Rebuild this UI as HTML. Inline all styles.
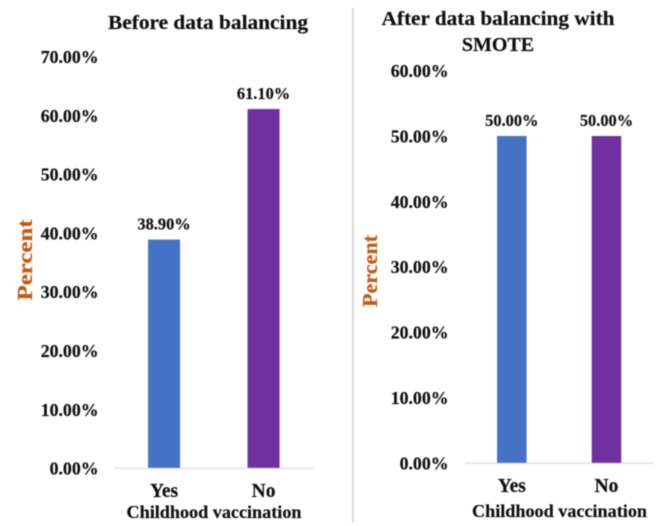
<!DOCTYPE html>
<html lang="en">
<head>
<meta charset="utf-8">
<title>Childhood vaccination before and after data balancing</title>
<style>
html,body{margin:0;padding:0;background:#fff;width:660px;height:526px;overflow:hidden}
svg{display:block;filter:blur(0.4px)}
text{font-family:"Liberation Serif",serif;font-weight:bold;fill:#111;stroke:#111;stroke-width:0.2px}
</style>
</head>
<body>
<svg id="chart" xmlns="http://www.w3.org/2000/svg" width="660" height="526" viewBox="0 0 660 526">
<rect width="660" height="526" fill="#fff"/>
<line x1="353" y1="8" x2="353" y2="523" stroke="#d0d0d0" stroke-width="1.5"/>
<text x="208" y="29" text-anchor="middle" font-size="20" textLength="200" lengthAdjust="spacingAndGlyphs">Before data balancing</text>
<text x="498" y="25" text-anchor="middle" font-size="20" textLength="233" lengthAdjust="spacingAndGlyphs">After data balancing with</text>
<text x="498" y="51" text-anchor="middle" font-size="20">SMOTE</text>
<text transform="translate(32,260) rotate(-90)" text-anchor="middle" font-size="21" textLength="81" lengthAdjust="spacingAndGlyphs" style="fill:#c55a11;stroke:#c55a11">Percent</text>
<text transform="translate(377,271) rotate(-90)" text-anchor="middle" font-size="21" textLength="72" lengthAdjust="spacingAndGlyphs" style="fill:#c55a11;stroke:#c55a11">Percent</text>
<text x="214" y="518" text-anchor="middle" font-size="17.5" textLength="175" lengthAdjust="spacingAndGlyphs">Childhood vaccination</text>
<text x="559.5" y="517" text-anchor="middle" font-size="17.5" textLength="175" lengthAdjust="spacingAndGlyphs">Childhood vaccination</text>
<g id="left-plot"></g>
<g id="right-plot"></g>
</svg>
<script>
const categories = ['Yes', 'No'];
const barColors = ['#4472c4', '#7030a0'];
const beforeValues = [38.9, 61.1];
const afterValues = [50, 50];
const beforeTicks = [0, 10, 20, 30, 40, 50, 60, 70];
const afterTicks = [0, 10, 20, 30, 40, 50, 60];

const SVG_NS = 'http://www.w3.org/2000/svg';

function fmt(v) {
  return v.toFixed(2) + '%';
}

function make(parent, tag, attrs, content) {
  const el = document.createElementNS(SVG_NS, tag);
  Object.keys(attrs).forEach(function (k) { el.setAttribute(k, attrs[k]); });
  if (content !== undefined) el.textContent = content;
  parent.appendChild(el);
  return el;
}

function drawPlot(parentId, values, ticks, frame) {
  const g = document.getElementById(parentId);
  const yScale = function (v) { return frame.baseY - v * frame.pxPerUnit; };
  const band = (frame.right - frame.left) / categories.length;
  const xCenter = function (i) { return frame.left + band * (i + 0.5) + frame.centerShift; };

  ticks.forEach(function (t) {
    const label = make(g, 'text', {
      x: frame.tickX, y: yScale(t) + 6.3, 'text-anchor': 'end', 'font-size': 17.8
    }, fmt(t));
    
    
  });

  values.forEach(function (v, i) {
    const top = yScale(v);
    const bar = make(g, 'rect', {
      x: xCenter(i) - frame.barWidth / 2,
      y: top,
      width: frame.barWidth,
      height: frame.baseY - top,
      fill: barColors[i]
    });
    
    

    const valueLabel = make(g, 'text', {
      x: xCenter(i), y: top - 10, 'text-anchor': 'middle', 'font-size': 16.4
    }, fmt(v));
    
    

    const catLabel = make(g, 'text', {
      x: xCenter(i), y: frame.catY, 'text-anchor': 'middle', 'font-size': 19.5
    }, categories[i]);
    
    
  });

  const axis = make(g, 'line', {
    x1: frame.left, x2: frame.right, y1: frame.baseY, y2: frame.baseY,
    stroke: '#d4d4d4', 'stroke-width': 1
  });
  
  
}

drawPlot('left-plot', beforeValues, beforeTicks, {
  left: 114, right: 313, baseY: 468.3, pxPerUnit: 5.88,
  tickX: 98.5, barWidth: 32, catY: 497, centerShift: 0.3
});
drawPlot('right-plot', afterValues, afterTicks, {
  left: 464.7, right: 654, baseY: 463.3, pxPerUnit: 6.546,
  tickX: 448.5, barWidth: 29.5, catY: 492, centerShift: -0.2
});
</script>
</body>
</html>
